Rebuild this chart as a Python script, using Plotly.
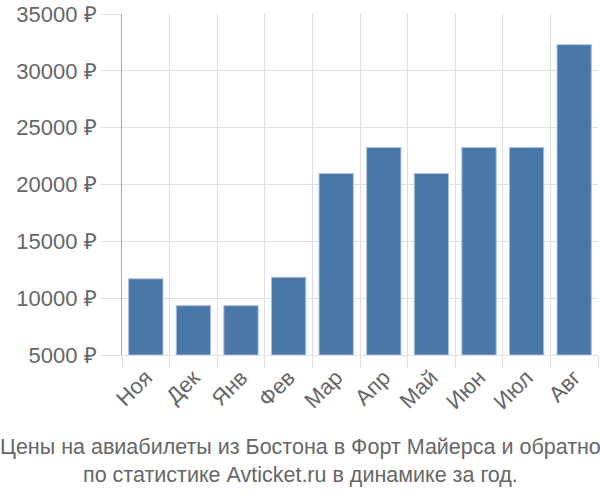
import plotly.graph_objects as go

months = ["Ноя", "Дек", "Янв", "Фев", "Мар", "Апр", "Май", "Июн", "Июл", "Авг"]
prices = [11700, 9340, 9340, 11840, 20960, 23250, 20960, 23250, 23250, 32300]
y_ticks = [5000, 10000, 15000, 20000, 25000, 30000, 35000]
y_labels = [f"{v} ₽" for v in y_ticks]
title_text = ("Цены на авиабилеты из Бостона в Форт Майерса и обратно<br>"
              "по статистике Avticket.ru в динамике за год.")

bar_color = "#4a76a8"
grid_color = "#e0e0e0"
text_color = "#666666"

fig = go.Figure(
    go.Bar(
        x=months,
        y=[p - 5000 for p in prices],
        base=5000,
        marker=dict(color=bar_color, line=dict(color="#a9c1df", width=1)),
        width=0.72,
    )
)

fig.update_layout(
    width=600,
    height=500,
    margin=dict(l=122, r=2, t=14, b=145, autoexpand=False),
    paper_bgcolor="white",
    plot_bgcolor="white",
    showlegend=False,
    font=dict(family="Liberation Sans, Arial, sans-serif", size=22, color=text_color),
    annotations=[
        dict(
            text=title_text,
            xref="paper", yref="paper",
            x=(300 - 122) / 476, y=-0.228,
            xanchor="center", yanchor="top",
            showarrow=False,
            font=dict(size=21.5, color=text_color),
        )
    ],
)

fig.update_xaxes(
    type="category",
    tickson="boundaries",
    showgrid=True,
    gridcolor=grid_color,
    gridwidth=1,
    ticks="outside",
    ticklen=12,
    tickcolor=grid_color,
    tickangle=-45,
    showline=True,
    linecolor=grid_color,
    automargin=False,
    tickfont=dict(size=22, color=text_color),
)

fig.update_yaxes(
    range=[5000, 35000],
    tickvals=y_ticks,
    ticktext=y_labels,
    showgrid=True,
    gridcolor=grid_color,
    gridwidth=1,
    ticks="outside",
    ticklen=20,
    tickcolor=grid_color,
    showline=True,
    linecolor="#aaaaaa",
    linewidth=1,
    zeroline=False,
    automargin=False,
    tickfont=dict(size=22, color=text_color),
)

fig.write_html(
    "out.html",
    config={"displayModeBar": False},
    post_script="document.body.style.margin = '0';",
)
